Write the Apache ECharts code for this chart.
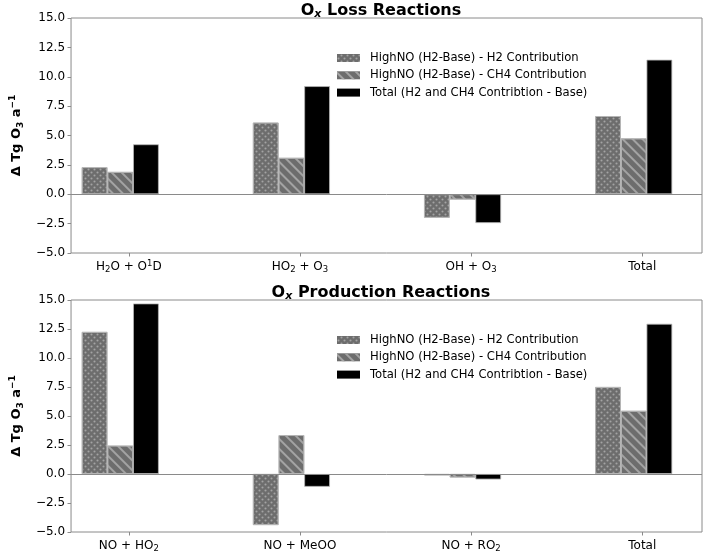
<!DOCTYPE html>
<html>
<head>
<meta charset="utf-8">
<title>Ox loss / production</title>
<script src="https://cdn.jsdelivr.net/npm/echarts@6/dist/echarts.min.js"></script>
<style>
  body { margin: 0; padding: 0; background: #fff; }
  #main { width: 706px; height: 553px; }
</style>
</head>
<body>
<div id="main"></div>
<script>
// 数据
var lossLabels = ['H{s|2}O + O{p|1}D', 'HO{s|2} + O{s|3}', 'OH + O{s|3}', 'Total'];
var prodLabels = ['NO + HO{s|2}', 'NO + MeOO', 'NO + RO{s|2}', 'Total'];
var seriesNames = [
  'HighNO (H2-Base) - H2 Contribution',
  'HighNO (H2-Base) - CH4 Contribution',
  'Total (H2 and CH4 Contribtion - Base)'
];
var lossH2 = [2.3, 6.1, -2.0, 6.65];
var lossCH4 = [1.9, 3.1, -0.45, 4.75];
var lossTotal = [4.25, 9.2, -2.45, 11.45];
var prodH2 = [12.25, -4.4, -0.12, 7.5];
var prodCH4 = [2.45, 3.35, -0.3, 5.45];
var prodTotal = [14.7, -1.1, -0.47, 12.95];
var yTicks = [-5, 15, 2.5]; // min, max, interval

var chart = echarts.init(document.getElementById('main'), null, {renderer: 'canvas'});

var FONT = 'DejaVu Sans';
var barOffsets = [-0.2, -0.05, 0.1]; // 柱子相对刻度的偏移
var barW = 25.7;
var plotW = 642;
var xLim = [-0.399, 3.349];
// echarts 会在数值轴左侧为柱子多留约 10px，这里先把 min 收回去
var overflowPx = 10.5;
var k0 = overflowPx / (plotW - overflowPx);
var xMinIn = (xLim[0] + xLim[1] * k0) / (1 + k0);

var subRich = {
  s: {fontSize: 8.5, lineHeight: 8, verticalAlign: 'bottom', fontFamily: FONT, color: '#000'},
  p: {fontSize: 8.5, lineHeight: 8, verticalAlign: 'top', fontFamily: FONT, color: '#000'}
};

var styles = [
  {
    color: '#6d6d6d',
    borderColor: '#b5b5b5',
    borderWidth: 0.8,
    decal: {
      symbol: 'circle',
      symbolSize: 0.7,
      dashArrayX: [[3, 3], [0, 3, 3, 0]],
      dashArrayY: [3, 0],
      color: '#a3a3a3'
    }
  },
  {
    color: '#6d6d6d',
    borderColor: '#b5b5b5',
    borderWidth: 0.8,
    decal: {
      symbol: 'rect',
      symbolSize: 1,
      dashArrayX: [[1, 0]],
      dashArrayY: [1.2, 4.3],
      rotation: Math.PI / 4,
      color: '#a3a3a3'
    }
  },
  {
    color: '#000',
    borderColor: '#b5b5b5',
    borderWidth: 0.8
  }
];

function makeSeries(values, k, gi) {
  var s = {
    name: seriesNames[k],
    type: 'bar',
    xAxisIndex: gi,
    yAxisIndex: gi,
    barWidth: barW,
    barGap: '-100%',
    itemStyle: styles[k],
    data: values.map(function (v, i) { return [i + barOffsets[k], v]; })
  };
  if (k === 0) {
    s.markLine = {
      silent: true,
      symbol: 'none',
      label: {show: false},
      lineStyle: {color: '#8a8a8a', width: 1, type: 'solid'},
      data: [{yAxis: 0}]
    };
  }
  return s;
}

function xAxisFor(gi, labels) {
  return {
    type: 'value',
    gridIndex: gi,
    min: xMinIn,
    max: xLim[1],
    splitLine: {show: false},
    axisLine: {show: false, onZero: false},
    axisTick: {show: true, length: 3.5, customValues: [0, 1, 2, 3], lineStyle: {color: '#8a8a8a'}},
    axisLabel: {
      customValues: [0, 1, 2, 3],
      margin: 6,
      fontFamily: FONT,
      fontSize: 12,
      color: '#000',
      lineHeight: 15,
      rich: subRich,
      formatter: function (v) { return labels[Math.round(v)]; }
    }
  };
}

function yAxisFor(gi) {
  return {
    type: 'value',
    gridIndex: gi,
    min: yTicks[0],
    max: yTicks[1],
    interval: yTicks[2],
    splitLine: {show: false},
    axisLine: {show: false, onZero: false},
    axisTick: {show: true, length: 3.5, lineStyle: {color: '#8a8a8a'}},
    axisLabel: {
      margin: 6,
      fontFamily: FONT,
      fontSize: 12,
      color: '#000',
      formatter: function (v) { return v.toFixed(1).replace('-', '\u2212'); }
    },
    name: '\u0394 Tg O{s|3} a{p|\u22121}',
    nameLocation: 'middle',
    nameGap: 38,
    nameTextStyle: {
      fontFamily: FONT,
      fontSize: 13,
      fontWeight: 'bold',
      color: '#000',
      lineHeight: 17,
      rich: {
        s: {fontSize: 9, lineHeight: 9, verticalAlign: 'bottom', fontFamily: FONT, fontWeight: 'bold', color: '#000'},
        p: {fontSize: 9, lineHeight: 9, verticalAlign: 'top', fontFamily: FONT, fontWeight: 'bold', color: '#000'}
      }
    }
  };
}

function titleFor(text, top) {
  return {
    text: text,
    left: 381,
    top: top,
    padding: 0,
    textAlign: 'center',
    textStyle: {
      fontFamily: FONT,
      fontSize: 16,
      fontWeight: 'bold',
      color: '#000',
      lineHeight: 19,
      rich: {
        x: {fontSize: 11, lineHeight: 10, verticalAlign: 'bottom', fontStyle: 'italic', fontFamily: FONT, color: '#000'}
      }
    }
  };
}

function legendFor(gi, top) {
  return {
    data: seriesNames.map(function (n) { return {name: n}; }),
    left: 337,
    top: top,
    padding: 0,
    orient: 'vertical',
    icon: 'rect',
    itemWidth: 23,
    itemHeight: 8,
    itemGap: 3.3,
    itemStyle: {borderWidth: 0},
    selectedMode: false,
    textStyle: {fontFamily: FONT, fontSize: 11.6, color: '#000', lineHeight: 14, padding: [0, 0, 0, 5]}
  };
}

var option = {
  animation: false,
  backgroundColor: '#fff',
  title: [
    titleFor('O{x|x} Loss Reactions', 1),
    titleFor('O{x|x} Production Reactions', 283)
  ],
  legend: [legendFor(0, 51), legendFor(1, 333)],
  grid: [
    {left: 60, right: 4, top: 18, height: 235, show: true, borderColor: '#8a8a8a', borderWidth: 1, backgroundColor: 'transparent'},
    {left: 60, right: 4, top: 300, height: 235, show: true, borderColor: '#8a8a8a', borderWidth: 1, backgroundColor: 'transparent'}
  ],
  xAxis: [xAxisFor(0, lossLabels), xAxisFor(1, prodLabels)],
  yAxis: [yAxisFor(0), yAxisFor(1)],
  series: [
    makeSeries(lossH2, 0, 0),
    makeSeries(lossCH4, 1, 0),
    makeSeries(lossTotal, 2, 0),
    makeSeries(prodH2, 0, 1),
    makeSeries(prodCH4, 1, 1),
    makeSeries(prodTotal, 2, 1)
  ]
};

chart.setOption(option);
window.addEventListener('resize', function () {
  chart.resize();
});
</script>
</body>
</html>
